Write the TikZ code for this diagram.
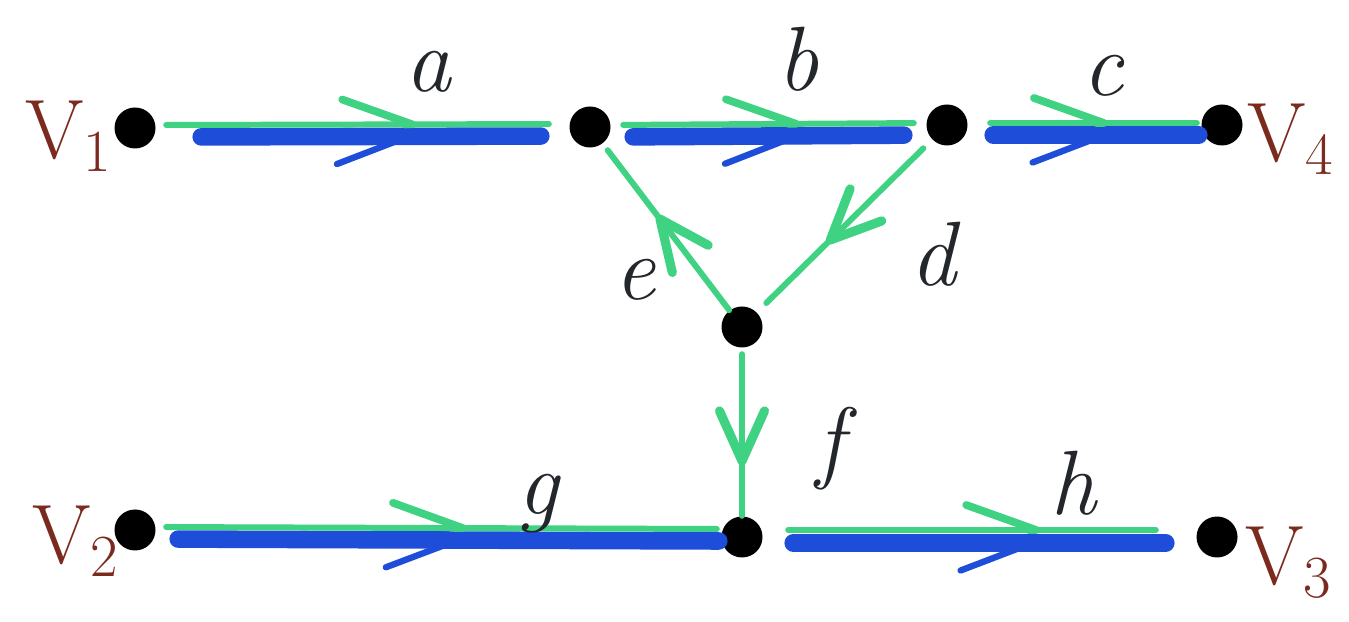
\documentclass[tikz,border=0pt]{standalone}
\usetikzlibrary{arrows.meta,decorations.markings}
\definecolor{Marker}{HTML}{3FD282}
\definecolor{Ink}{HTML}{1E4DDA}
\definecolor{Brown}{HTML}{7B2A1E}
\definecolor{Pencil}{HTML}{23262B}
\newcommand{\vname}[1]{V\raisebox{-0.35ex}{\fontsize{17}{17}\selectfont #1}}

\begin{document}
\begin{tikzpicture}[
  dot/.style={circle,fill=black,inner sep=0pt,minimum size=0.41cm},
  lbl/.style={text=Pencil,font=\fontsize{26}{28}\selectfont\itshape},
  vlbl/.style={text=Brown,font=\fontsize{24}{26}\selectfont},
  gline/.style={draw=Marker,line width=1.7pt,line cap=round},
  bline/.style={draw=Ink,line width=5pt,line cap=round},
  gharp/.style={decoration={markings,mark=at position #1 with {\arrow{Straight Barb[harpoon,round,length=0.7cm,width=0.5cm,line width=2.2pt,color=Marker]}}},postaction={decorate}},
  bharp/.style={decoration={markings,mark=at position #1 with {\arrow{Straight Barb[harpoon,swap,round,length=0.72cm,width=0.55cm,line width=1.8pt,color=Ink]}}},postaction={decorate}},
  gfull/.style={decoration={markings,mark=at position #1 with {\arrow{Straight Barb[round,length=0.5cm,width=0.45cm,line width=2.6pt,color=Marker]}}},postaction={decorate}}
]
\useasboundingbox[fill=white] (0,0) rectangle (13.49,6.21);

% vertices
\node[dot] (v1) at (1.35,4.93) {};
\node[dot] (top) at (5.90,4.94) {};
\node[dot] (right) at (9.47,4.96) {};
\node[dot] (v4) at (12.22,4.96) {};
\node[dot] (mid) at (7.42,2.94) {};
\node[dot] (v2) at (1.35,0.91) {};
\node[dot] (bot) at (7.42,0.84) {};
\node[dot] (v3) at (12.17,0.84) {};

% upper row
\draw[bline,bharp=0.62,shorten <=0.45cm,shorten >=0.28cm] ([yshift=-0.09cm]v1.east) -- ([yshift=-0.09cm]top.west);
\draw[gline,gharp=0.63,shorten <=0.1cm,shorten >=0.2cm] ([yshift=0.03cm]v1.east) -- ([yshift=0.03cm]top.west);
\draw[bline,bharp=0.6,shorten <=0.22cm,shorten >=0.22cm] ([yshift=-0.1cm]top.east) -- ([yshift=-0.1cm]right.west);
\draw[gline,gharp=0.6,shorten <=0.12cm,shorten >=0.12cm] ([yshift=0.02cm]top.east) -- ([yshift=0.02cm]right.west);
\draw[bline,bharp=0.6,shorten <=0.25cm,shorten >=0.02cm] ([yshift=-0.1cm]right.east) -- ([yshift=-0.1cm]v4.west);
\draw[gline,gharp=0.6,shorten <=0.22cm,shorten >=0.04cm] ([yshift=0.02cm]right.east) -- ([yshift=0.02cm]v4.west);

% middle edges
\draw[gline,gfull=0.57,shorten >=0.08cm] (mid) -- (top);
\draw[gline,gfull=0.6,shorten <=0.12cm,shorten >=0.13cm] (right) -- (mid);
\draw[gline,gfull=0.7,shorten <=0.06cm] (mid) -- (bot);

% lower row
\draw[bline,bharp=0.54,shorten <=0.22cm,shorten >=0.02cm] ([yshift=-0.09cm]v2.east) -- ([yshift=-0.04cm]bot.west);
\draw[gline,gharp=0.55,shorten <=0.1cm,shorten >=0.04cm] ([yshift=0.03cm]v2.east) -- ([yshift=0.08cm]bot.west);
\draw[bline,bharp=0.63,shorten <=0.3cm,shorten >=0.3cm] ([yshift=-0.06cm]bot.east) -- ([yshift=-0.06cm]v3.west);
\draw[gline,gharp=0.64,shorten <=0.25cm,shorten >=0.4cm] ([yshift=0.07cm]bot.east) -- ([yshift=0.07cm]v3.west);

% labels
\node[lbl] (la) at (4.28,5.49) {a};
\node[lbl] (lb) at (7.98,5.62) {b};
\node[lbl] (lc) at (11.03,5.45) {c};
\node[lbl] (le) at (6.35,3.41) {e};
\node[lbl] (ld) at (9.33,3.67) {d};
\node[lbl] (lf) at (8.30,1.72) {f};
\node[lbl] (lg) at (5.38,1.17) {g};
\node[lbl] (lh) at (10.73,1.38) {h};
\node[vlbl] (lv1) at (0.68,4.85) {\vname{1}};
\node[vlbl] (lv4) at (12.90,4.82) {\vname{4}};
\node[vlbl] (lv2) at (0.75,0.80) {\vname{2}};
\node[vlbl] (lv3) at (12.88,0.58) {\vname{3}};
\end{tikzpicture}
\end{document}
